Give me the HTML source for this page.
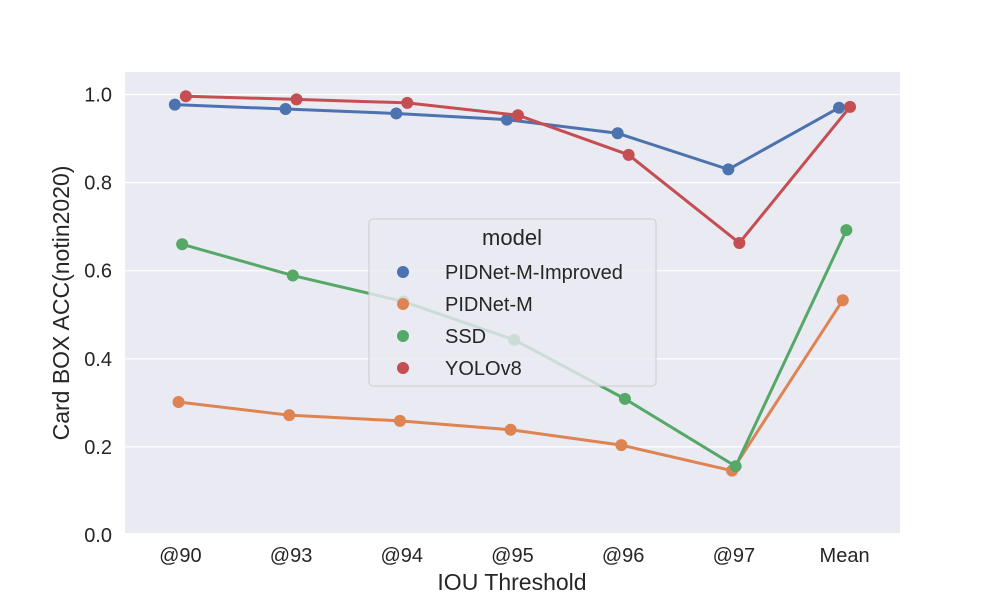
<!DOCTYPE html>
<html><head><meta charset="utf-8"><style>
html,body{margin:0;padding:0;background:#fff;}
svg{display:block;font-family:"Liberation Sans","DejaVu Sans",sans-serif;}
</style></head><body>
<svg id="chart" width="1000" height="600" viewBox="0 0 1000 600" xmlns="http://www.w3.org/2000/svg">
<rect x="0" y="0" width="1000" height="600" fill="#ffffff"/>
<rect x="125" y="72" width="775" height="461" fill="#eaeaf2"/>
<g id="grid"></g><g id="series"></g><g id="ticks"></g>
<text x="512" y="590" font-size="23" text-anchor="middle" fill="#262626">IOU Threshold</text>
<text x="0" y="0" font-size="23" text-anchor="middle" fill="#262626" transform="translate(69,303) rotate(-90)">Card BOX ACC(notin2020)</text>
<g id="legend"></g>
</svg>
<script>
const categories = ["@90","@93","@94","@95","@96","@97","Mean"];
const seriesNames = ["PIDNet-M-Improved","PIDNet-M","SSD","YOLOv8"];
const blueValues = [0.977,0.967,0.957,0.943,0.912,0.830,0.970];
const orangeValues = [0.302,0.272,0.259,0.239,0.204,0.146,0.533];
const greenValues = [0.660,0.589,0.530,0.443,0.309,0.156,0.692];
const redValues = [0.996,0.989,0.981,0.953,0.863,0.663,0.972];
const yTicks = [0.0,0.2,0.4,0.6,0.8,1.0];

const NS="http://www.w3.org/2000/svg";
const colors=["#4c72b0","#dd8452","#55a868","#c44e52"];
const allValues=[blueValues,orangeValues,greenValues,redValues];
const offsets=[-5.5,-1.8,1.8,5.5];
function xPos(i){return 125+110.7*(i+0.5);}
function yPos(v){return 535-440.5*v;}
function mk(tag,attrs,parent){const e=document.createElementNS(NS,tag);for(const k in attrs)e.setAttribute(k,attrs[k]);parent.appendChild(e);return e;}

const grid=document.getElementById('grid'),ticks=document.getElementById('ticks'),ser=document.getElementById('series');
yTicks.forEach(t=>{
  const l=mk('line',{x1:125,x2:900,y1:yPos(t),y2:yPos(t),stroke:'#fff','stroke-width':1.2},grid);
  
  
  const tx=mk('text',{x:112,y:yPos(t)+7,'font-size':20,'text-anchor':'end',fill:'#262626'},ticks);
  tx.textContent=t.toFixed(1);
  
  
});
categories.forEach((c,i)=>{
  const tx=mk('text',{x:xPos(i),y:562,'font-size':20,'text-anchor':'middle',fill:'#262626'},ticks);
  tx.textContent=c;
  
  
});
allValues.forEach((vals,s)=>{
  const g=mk('g',{},ser);
  
  
  const pts=vals.map((v,i)=>(xPos(i)+offsets[s])+','+yPos(v)).join(' ');
  const pl=mk('polyline',{points:pts,fill:'none',stroke:colors[s],'stroke-width':3,'stroke-linejoin':'round'},g);
  
  
  vals.forEach((v,i)=>{
    const c=mk('circle',{cx:xPos(i)+offsets[s],cy:yPos(v),r:6,fill:colors[s]},g);
    
    
  });
});
const lg=document.getElementById('legend');
mk('rect',{x:369,y:219,width:287,height:167,rx:4,fill:'#eaeaf2','fill-opacity':0.8,stroke:'#cccccc','stroke-width':1},lg);
const tt=mk('text',{x:512,y:245,'font-size':22,'text-anchor':'middle',fill:'#262626'},lg);
tt.textContent='model';


seriesNames.forEach((n,s)=>{
  const y=272+32*s;
  const g=mk('g',{},lg);
  
  
  mk('circle',{cx:403,cy:y,r:6,fill:colors[s]},g);
  const t=mk('text',{x:445,y:y+7,'font-size':20,fill:'#262626'},g);
  t.textContent=n;
});
</script>
</body></html>
